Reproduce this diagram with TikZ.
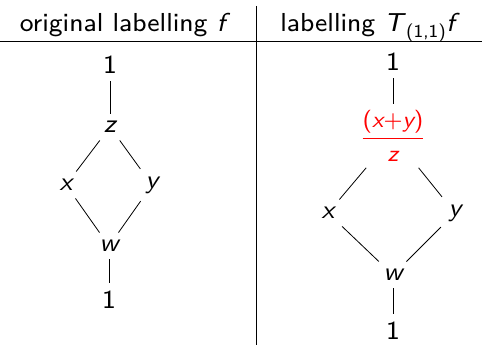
\documentclass[tikz,border=0pt]{standalone}
\usepackage{amsmath}
\usepackage{fontspec}
\setsansfont{lmsans8-regular.otf}[ItalicFont=lmsans8-oblique.otf]
\begin{document}
\begin{tikzpicture}[x=1pt,y=-1pt,
  lbl/.style={font=\fontsize{26}{30}\selectfont\sffamily, inner sep=0pt},
  vx/.style={font=\fontsize{26}{30}\selectfont\sffamily\itshape, inner sep=7.5pt},
  num/.style={vx, font=\fontsize{26}{30}\selectfont\sffamily},
  rule/.style={line width=0.9pt},
  edge/.style={line width=0.8pt}]
\useasboundingbox (0,0) rectangle (482,347);
% header
\node[lbl, anchor=base] (h1) at (125,32) {original labelling \textit{f}};
\node[lbl, anchor=base] (h2) at (370,32) {labelling \textit{T}$_{\textsf{(1,1)}}$\textit{f}};
\coordinate (hl) at (0,41);
\coordinate (hr) at (482,41);
\coordinate (vt) at (256,6);
\coordinate (vb) at (256,345);
\draw[rule] (hl) -- (hr);
\draw[rule] (vt) -- (vb);
% left lattice
\node[num] (a1) at (110,65) {1};
\node[vx] (az) at (110,127) {z};
\node[vx] (ax) at (66,185) {x};
\node[vx] (ay) at (152,185) {y};
\node[vx] (aw) at (109,246) {w};
\node[num] (a0) at (109,300) {1};
\draw[edge] (a1) -- (az);
\draw[edge] (az) -- (ax);
\draw[edge] (az) -- (ay);
\draw[edge] (ax) -- (aw);
\draw[edge] (ay) -- (aw);
\draw[edge] (aw) -- (a0);
% right lattice
\node[num] (b1) at (393,62) {1};
\node[vx, text=red, inner sep=6pt, font=\fontsize{23}{27}\selectfont\sffamily] (bz) at (393,136) {$\dfrac{\textsf{(\itshape x\upshape+\itshape y\upshape)}}{\textsf{\itshape z}}$};
\node[vx] (bx) at (328,213) {x};
\node[vx] (by) at (455,213) {y};
\node[vx] (bw) at (393,275) {w};
\node[num] (b0) at (393,331) {1};
\draw[edge] (b1) -- (bz);
\draw[edge] (bz) -- (bx);
\draw[edge] (bz) -- (by);
\draw[edge] (bx) -- (bw);
\draw[edge] (by) -- (bw);
\draw[edge] (bw) -- (b0);
\end{tikzpicture}
\end{document}
